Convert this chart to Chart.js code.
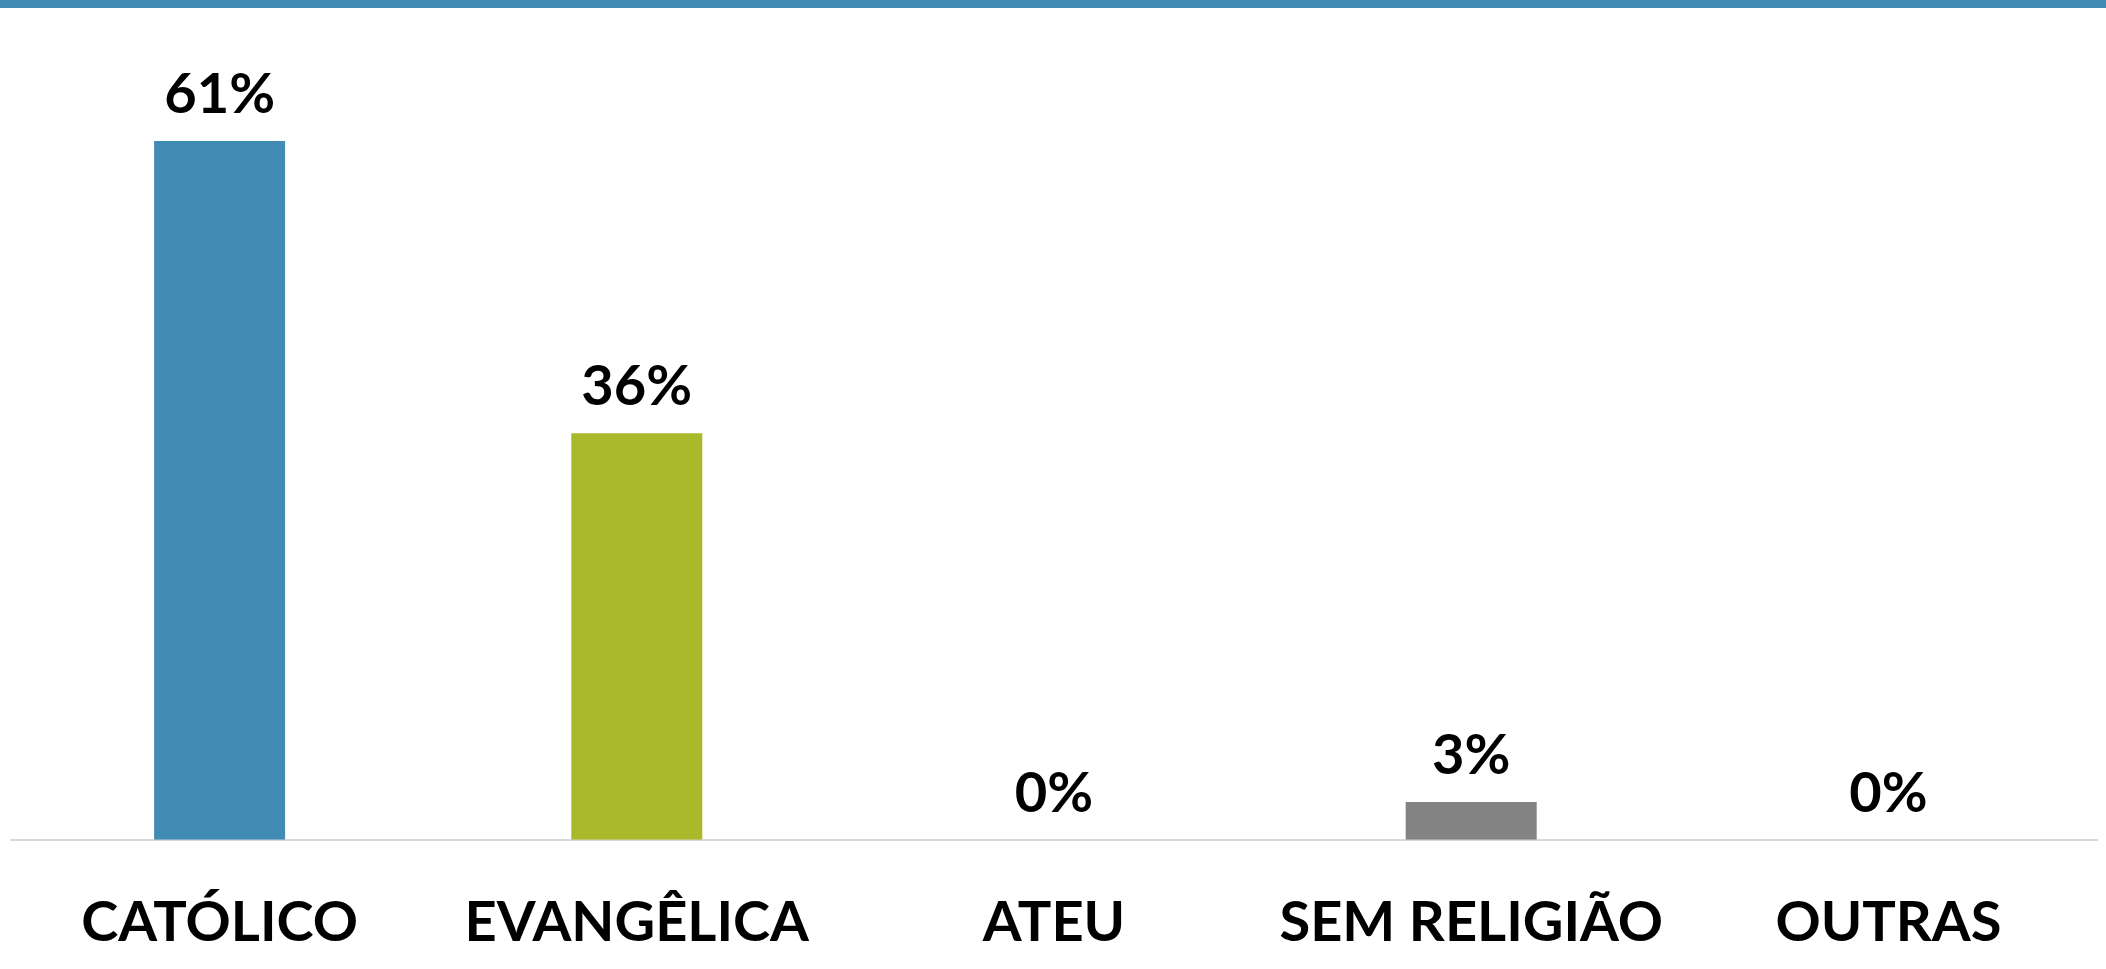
<!DOCTYPE html>
<html>
<head>
<meta charset="utf-8">
<script src="https://cdn.jsdelivr.net/npm/chart.js@4/dist/chart.umd.min.js"></script>
<style>
  html, body { margin: 0; padding: 0; background: #fff; overflow: hidden; }
  #faixa { height: 8px; background: #418ab3; }
  #wrap { position: relative; width: 2106px; height: 999px; }
</style>
</head>
<body>
<div id="faixa"></div>
<div id="wrap"><canvas id="grafico"></canvas></div>
<script>
const categorias = ["CATÓLICO", "EVANGÊLICA", "ATEU", "SEM RELIGIÃO", "OUTRAS"];
const percentuais = [61, 35.5, 0, 3.3, 0];
const cores = ["#428bb4", "#a8b92b", "#838383", "#838383", "#838383"];

const fonte = "Lato, 'Open Sans', sans-serif";

// rótulos de valor acima das barras
const rotulosValor = {
  id: "rotulosValor",
  afterDatasetsDraw(chart) {
    const ctx = chart.ctx;
    const meta = chart.getDatasetMeta(0);
    ctx.save();
    ctx.font = "bold 56px " + fonte;
    ctx.fillStyle = "#000";
    ctx.textAlign = "center";
    ctx.textBaseline = "alphabetic";
    meta.data.forEach((barra, i) => {
      ctx.fillText(Math.round(percentuais[i]) + "%", barra.x, barra.y - 28);
    });
    ctx.restore();
  }
};

new Chart(document.getElementById("grafico"), {
  type: "bar",
  data: {
    labels: categorias,
    datasets: [{
      data: percentuais,
      backgroundColor: cores,
      barPercentage: 0.314,
      categoryPercentage: 1
    }]
  },
  options: {
    responsive: true,
    maintainAspectRatio: false,
    animation: false,
    layout: { padding: { top: 30, left: 11, right: 9, bottom: 0 } },
    plugins: { legend: { display: false }, tooltip: { enabled: false } },
    scales: {
      y: { display: false, min: 0, max: 70 },
      x: {
        grid: { display: false, drawTicks: false },
        border: { display: true, color: "#d9d9d9", width: 2 },
        ticks: {
          color: "#000",
          padding: 50,
          font: { family: fonte, size: 56, weight: "bold" }
        }
      }
    }
  },
  plugins: [rotulosValor]
});
</script>
</body>
</html>
